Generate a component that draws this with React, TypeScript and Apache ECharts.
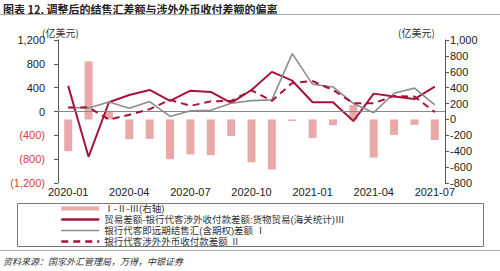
import React, { useEffect, useRef } from "react";
import * as echarts from "echarts";

const months = [
  "2020-01", "2020-02", "2020-03", "2020-04", "2020-05", "2020-06", "2020-07",
  "2020-08", "2020-09", "2020-10", "2020-11", "2020-12", "2021-01", "2021-02",
  "2021-03", "2021-04", "2021-05", "2021-06", "2021-07",
];

// Ⅰ-Ⅱ-Ⅲ (right axis)
const gapValues = [-400, 730, 100, -250, -245, -500, -440, -450, -210, -540, -630, -20, -235, -72, 180, -480, -195, -68, -260];
// Ⅲ trade balance minus bank cross-border goods-trade receipts/payments balance
const tradeGap = [430, -760, 155, 278, 361, 178, 350, 328, 145, 361, 665, 517, 156, 156, -160, 300, 250, 208, 417];
// Ⅰ bank settlement/sales balance (spot + forward incl. options)
const settleBalance = [67, 60, 160, 56, 167, -83, 11, 20, 139, 183, 195, 972, 456, 412, 135, -20, 306, 392, 111];
// Ⅱ bank cross-border FX receipts/payments balance
const fxBalance = [67, 70, -135, -56, 40, 195, 95, 170, 178, 355, 178, 480, 510, 361, 139, 140, 262, 250, -10];

const leftTicks = { min: -1200, max: 1200, interval: 400 };
const rightTicks = { min: -800, max: 1000, interval: 200 };

const N1 = "Ⅰ-Ⅱ-Ⅲ(右轴)";
const N2 = "贸易差额-银行代客涉外收付款差额:货物贸易(海关统计)Ⅲ";
const N3 = "银行代客即远期结售汇(含期权)差额 Ⅰ";
const N4 = "银行代客涉外外币收付款差额 Ⅱ";

const TITLE = "图表 12. 调整后的结售汇差额与涉外外币收付差额的偏离";
const UNIT = "(亿美元)";
const SOURCE = "资料来源：国家外汇管理局，万得，中银证券";

const NUM_FONT = "Liberation Sans, Arial, sans-serif";
const CJK_FONT = "Noto Sans CJK SC, sans-serif";
const LEGEND_FONT = "Liberation Sans, Noto Sans CJK SC, sans-serif";
const RED = "#a8123a";
const PINK = "#e9a9a9";
const GRAY = "#8c8c8c";

const fmt = (n: number) => n.toLocaleString("en-US");

export default function App() {
  const ref = useRef<HTMLDivElement>(null);
  useEffect(() => {
    document.body.style.margin = "0";
    const chart = echarts.init(ref.current!, null, { renderer: "svg" });
    chart.setOption({
      animation: false,
      grid: { left: 58, right: 55, top: 40, bottom: 88, containLabel: false },
      legend: {
        show: true,
        orient: "vertical",
        left: 60,
        top: 203.5,
        padding: 0,
        itemWidth: 38,
        itemHeight: 4,
        itemGap: 1,
        textStyle: { fontSize: 9.5, lineHeight: 10, color: "#333", fontFamily: LEGEND_FONT },
        data: [
          { name: N1, icon: "rect" },
          { name: N2, itemStyle: { opacity: 0 }, lineStyle: { width: 2.5 } },
          { name: N3, itemStyle: { opacity: 0 }, lineStyle: { width: 1.5 } },
          { name: N4, itemStyle: { opacity: 0 }, lineStyle: { width: 2.5, type: [7, 5] } },
        ],
      },
      xAxis: {
        type: "category",
        data: months,
        boundaryGap: true,
        axisLine: { show: false, onZero: false },
        axisTick: { show: false },
        axisLabel: {
          interval: 2,
          margin: 3,
          fontSize: 11,
          color: "#222",
          fontFamily: NUM_FONT,
        },
      },
      yAxis: [
        {
          type: "value",
          position: "left",
          ...leftTicks,
          splitLine: { show: false },
          axisLine: { show: true, lineStyle: { color: "#555", width: 1 } },
          axisTick: { show: true, inside: false, length: 4, lineStyle: { color: "#555" } },
          axisLabel: {
            margin: 13,
            fontSize: 11,
            color: "#222",
            fontFamily: NUM_FONT,
            formatter: (v: number) => (v < 0 ? `{neg|(${fmt(-v)})}` : fmt(v)),
            rich: { neg: { color: "#e03a3a", fontSize: 11, fontFamily: NUM_FONT } },
          },
        },
        {
          type: "value",
          position: "right",
          ...rightTicks,
          splitLine: { show: false },
          axisLine: { show: true, lineStyle: { color: "#555", width: 1 } },
          axisTick: { show: true, inside: false, length: 4, lineStyle: { color: "#555" } },
          axisLabel: {
            margin: 5,
            fontSize: 11,
            color: "#222",
            fontFamily: NUM_FONT,
            formatter: (v: number) => fmt(v),
          },
        },
      ],
      series: [
        {
          name: N1,
          type: "bar",
          yAxisIndex: 1,
          data: gapValues,
          barWidth: 8,
          itemStyle: { color: PINK },
        },
        {
          name: N2,
          type: "line",
          yAxisIndex: 0,
          data: tradeGap,
          symbol: "none",
          lineStyle: { color: RED, width: 2 },
          itemStyle: { color: RED },
          markLine: {
            silent: true,
            symbol: ["none", "none"],
            label: { show: false },
            lineStyle: { color: "#888", width: 1, type: "solid" },
            data: [{ yAxis: 0 }],
          },
          z: 3,
        },
        {
          name: N3,
          type: "line",
          yAxisIndex: 0,
          data: settleBalance,
          symbol: "none",
          lineStyle: { color: GRAY, width: 1.6 },
          itemStyle: { color: GRAY },
          z: 4,
        },
        {
          name: N4,
          type: "line",
          yAxisIndex: 0,
          data: fxBalance,
          symbol: "none",
          lineStyle: { color: RED, width: 2, type: [7, 5] },
          itemStyle: { color: RED },
          z: 5,
        },
      ],
      graphic: [
        {
          type: "text",
          left: 3,
          top: 3,
          style: { text: TITLE, fontSize: 11, fontWeight: "bold", fill: "#222", fontFamily: CJK_FONT },
        },
        {
          type: "line",
          shape: { x1: 0, y1: 14.5, x2: 500, y2: 14.5 },
          style: { stroke: "#aaa", lineWidth: 1 },
        },
        {
          type: "text",
          left: 42,
          top: 27,
          style: { text: UNIT, fontSize: 10, fill: "#333", fontFamily: CJK_FONT },
        },
        {
          type: "text",
          left: 398,
          top: 27,
          style: { text: UNIT, fontSize: 10, fill: "#333", fontFamily: CJK_FONT },
        },
        {
          type: "rect",
          shape: { x: 17.5, y: 203.5, width: 466, height: 43 },
          style: { fill: "none", stroke: "#777", lineWidth: 1 },
        },
        {
          type: "line",
          shape: { x1: 0, y1: 250.5, x2: 500, y2: 250.5 },
          style: { stroke: "#aaa", lineWidth: 1 },
        },
        {
          type: "text",
          left: 3,
          top: 257,
          style: { text: SOURCE, fontSize: 9, fontStyle: "italic", fill: "#333", fontFamily: CJK_FONT },
        },
      ],
    });
    return () => chart.dispose();
  }, []);
  return <div ref={ref} style={{ width: 500, height: 271 }} />;
}
